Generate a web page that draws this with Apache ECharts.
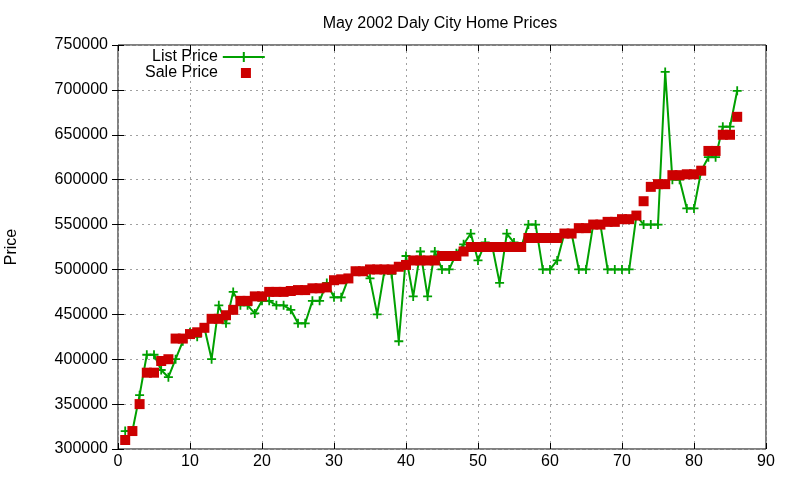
<!DOCTYPE html>
<html>
<head>
<meta charset="utf-8">
<script src="https://cdn.jsdelivr.net/npm/echarts@6/dist/echarts.min.js"></script>
<style>
  html, body { margin: 0; padding: 0; background: #fff; }
  #chart { width: 800px; height: 480px; }
</style>
</head>
<body>
<div id="chart"></div>
<script>
// house index 1..86, sorted by sale price
var listPrice = [
  320000, 320000, 360000, 405000, 405000, 388000, 380000, 400000, 420000, 430000,
  425000, 435000, 400000, 460000, 440000, 475000, 460000, 460000, 451000, 465000,
  465000, 460000, 460000, 455000, 440000, 440000, 465000, 465000, 485000, 469000,
  469000, 490000, 498000, 498000, 490000, 450000, 498000, 495000, 420000, 515000,
  470000, 520000, 470000, 520000, 500000, 500000, 518000, 528000, 540000, 510000,
  530000, 525000, 485000, 540000, 530000, 525000, 550000, 550000, 500000, 500000,
  510000, 540000, 540000, 500000, 500000, 550000, 550000, 500000, 500000, 500000,
  500000, 560000, 550000, 550000, 550000, 720000, 600000, 600000, 568000, 568000,
  610000, 625000, 625000, 659000, 659000, 699000
];
var salePrice = [
  310000, 320000, 350000, 385000, 385000, 398000, 400000, 423000, 423000, 428000,
  430000, 435000, 445000, 445000, 449000, 455000, 465000, 465000, 470000, 470000,
  475000, 475000, 475000, 476000, 477000, 477000, 479000, 479000, 480000, 488000,
  489000, 490000, 498000, 498000, 500000, 500000, 500000, 500000, 503000, 505000,
  510000, 510000, 510000, 510000, 515000, 515000, 515000, 520000, 525000, 525000,
  525000, 525000, 525000, 525000, 525000, 525000, 535000, 535000, 535000, 535000,
  535000, 540000, 540000, 546000, 546000, 550000, 550000, 553000, 553000, 556000,
  556000, 560000, 576000, 592000, 595000, 595000, 605000, 605000, 606000, 606000,
  610000, 632000, 632000, 650000, 650000, 670000
];

var listData = listPrice.map(function (v, i) { return [i + 1, v] })
var saleData = salePrice.map(function (v, i) { return [i + 1, v] })

var plusIcon = 'path://M4,0h2v10h-2z M0,4h10v2h-10z'
var lineIcon = 'path://M0,9h42v2h-42z M20,5h2v10h-2z'
var font = 'Liberation Sans'

var myChart = echarts.init(document.getElementById('chart'))
myChart.setOption({
  animation: false,
  textStyle: { fontFamily: font },
  title: {
    text: 'May 2002 Daly City Home Prices',
    left: 435, top: 11, textAlign: 'center',
    textStyle: { fontFamily: font, fontSize: 16, fontWeight: 'normal', color: '#000' }
  },
  legend: [{
    data: [{ name: 'List Price', icon: lineIcon }],
    left: 147, top: 44, align: 'right',
    itemWidth: 42, itemHeight: 15, itemGap: 0,
    textStyle: { fontFamily: font, fontSize: 16, color: '#000' }
  }, {
    data: [{ name: 'Sale Price', icon: 'rect' }],
    left: 140, top: 60, align: 'right',
    itemWidth: 10, itemHeight: 10, itemGap: 0,
    textStyle: { fontFamily: font, fontSize: 16, color: '#000', padding: [0, 18, 0, 0] }
  }],
  grid: {
    left: 118, right: 34, top: 45, bottom: 31,
    outerBoundsMode: 'none', containLabel: false,
    show: true, borderColor: '#000', borderWidth: 1, backgroundColor: 'transparent'
  },
  xAxis: [{
    type: 'value', min: 0, max: 90, interval: 10,
    axisLine: { show: false },
    axisTick: { inside: true, length: 6, lineStyle: { color: '#000' } },
    axisLabel: { fontSize: 16, color: '#000', margin: 5, fontFamily: font },
    splitLine: { show: true, lineStyle: { color: '#a0a0a0', type: [2, 4] } }
  }, {
    type: 'value', min: 0, max: 90, interval: 10, position: 'top',
    axisLine: { show: false },
    axisTick: { inside: true, length: 6, lineStyle: { color: '#000' } },
    axisLabel: { show: false }, splitLine: { show: false }
  }],
  yAxis: [{
    type: 'value', min: 300000, max: 750000, interval: 50000,
    name: 'Price', nameLocation: 'middle', nameGap: 98, nameRotate: 90,
    nameTextStyle: { fontSize: 16, color: '#000', fontFamily: font },
    axisLine: { show: false },
    axisTick: { inside: true, length: 6, lineStyle: { color: '#000' } },
    axisLabel: { fontSize: 16, color: '#000', margin: 10, fontFamily: font,
      formatter: function (v) { return String(v) } },
    splitLine: { show: true, lineStyle: { color: '#a0a0a0', type: [2, 4] } }
  }, {
    type: 'value', min: 300000, max: 750000, interval: 50000, position: 'right',
    axisLine: { show: false },
    axisTick: { inside: true, length: 6, lineStyle: { color: '#000' } },
    axisLabel: { show: false }, splitLine: { show: false }
  }],
  series: [{
    name: 'List Price',
    type: 'line',
    data: listData,
    symbol: plusIcon,
    symbolSize: 9,
    showAllSymbol: true,
    itemStyle: { color: '#00a000' },
    lineStyle: { color: '#00a000', width: 2 },
    z: 2
  }, {
    name: 'Sale Price',
    type: 'scatter',
    data: saleData,
    symbol: 'rect',
    symbolSize: 10,
    itemStyle: { color: '#cc0000', opacity: 1 },
    z: 3
  }]
})
</script>
</body>
</html>
